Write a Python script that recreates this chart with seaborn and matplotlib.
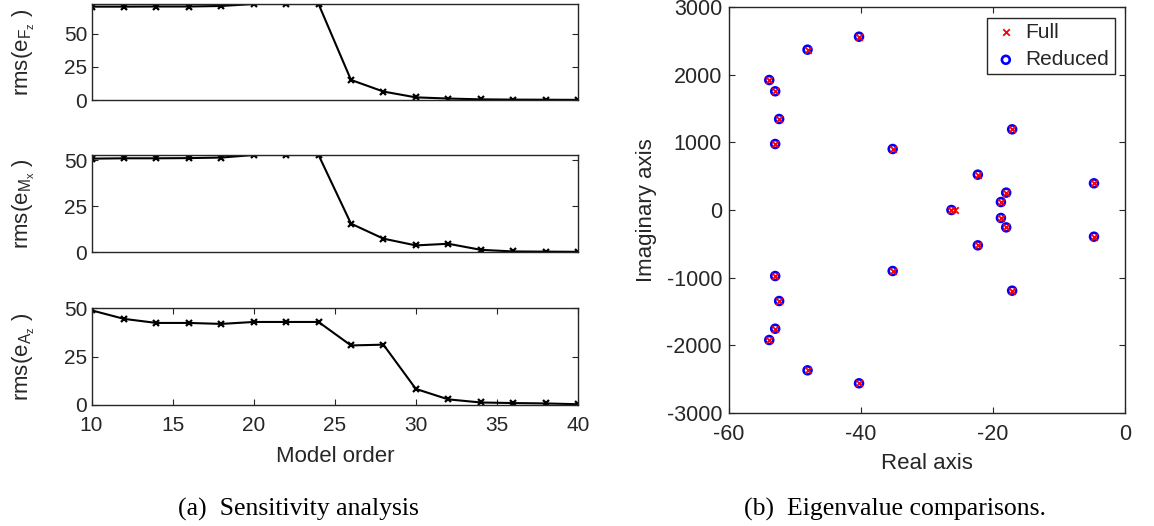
import numpy as np
import pandas as pd
import matplotlib
matplotlib.use("Agg")
import matplotlib.pyplot as plt
import seaborn as sns

# ---- sensitivity analysis data ----
model_order = [10, 12, 14, 16, 18, 20, 22, 24, 26, 28, 30, 32, 34, 36, 38, 40]
rms_fz = [70.7, 70.7, 70.8, 70.8, 71.2, 72.7, 72.7, 72.7, 15.2, 6.4, 2.0, 1.1, 0.5, 0.3, 0.2, 0.1]
rms_mx = [51.0, 51.2, 51.2, 51.3, 51.6, 53.0, 53.0, 53.0, 15.5, 7.3, 3.6, 4.5, 1.2, 0.3, 0.2, 0.1]
rms_az = [48.8, 44.4, 42.3, 42.3, 41.8, 42.8, 42.8, 42.8, 30.7, 31.1, 8.3, 2.9, 1.3, 1.0, 0.8, 0.4]
ylims = [72.7, 53.0, 50.0]
ylabels = [r"rms(e$_{\mathrm{F}_{\mathrm{z}}}$ )",
           r"rms(e$_{\mathrm{M}_{\mathrm{x}}}$ )",
           r"rms(e$_{\mathrm{A}_{\mathrm{z}}}$ )"]

# ---- eigenvalues (full and reduced models) ----
full_real = [-53.9, -53.0, -52.4, -53.0, -48.1, -40.3, -35.2, -22.3, -17.1, -18.0, -18.8, -4.7,
             -53.9, -53.0, -52.4, -53.0, -48.1, -40.3, -35.2, -22.3, -17.1, -18.0, -18.8, -4.7,
             -26.3, -25.8]
full_imag = [1924, 1757, 1347, 977, 2373, 2565, 903, 523, 1194, 257, 118, 395,
             -1924, -1757, -1347, -977, -2373, -2565, -903, -523, -1194, -257, -118, -395,
             0, 0]
red_real = [-53.9, -53.0, -52.4, -53.0, -48.1, -40.3, -35.2, -22.3, -17.1, -18.0, -18.8, -4.7,
            -53.9, -53.0, -52.4, -53.0, -48.1, -40.3, -35.2, -22.3, -17.1, -18.0, -18.8, -4.7,
            -26.3]
red_imag = [1924, 1757, 1347, 977, 2373, 2565, 903, 523, 1194, 257, 118, 395,
            -1924, -1757, -1347, -977, -2373, -2565, -903, -523, -1194, -257, -118, -395,
            0]

sns.set_style("ticks")
ink = "#262626"
plt.rcParams.update({
    "font.family": ["Liberation Sans", "DejaVu Sans"],
    "mathtext.fontset": "custom",
    "mathtext.rm": "Liberation Sans",
    "mathtext.it": "Liberation Sans",
    "axes.unicode_minus": False,
    "axes.edgecolor": ink,
    "axes.linewidth": 1.0,
    "text.color": ink,
    "axes.labelcolor": ink,
    "xtick.color": ink,
    "ytick.color": ink,
})

W, H = 1154, 526
fig = plt.figure(figsize=(W / 100, H / 100), dpi=100)


def px_axes(x0, y0, x1, y1):
    return fig.add_axes([x0 / W, (H - y1) / H, (x1 - x0) / W, (y1 - y0) / H])


def inward_ticks(ax, **kw):
    ax.tick_params(direction="in", length=4, width=0.8, **kw)


left_tick_fs = 15
right_tick_fs = 15.5
label_fs = 16

panel_rows = [(4, 100), (155, 252), (308, 405)]
series = [rms_fz, rms_mx, rms_az]
for i, ((y0, y1), vals) in enumerate(zip(panel_rows, series)):
    ax = px_axes(91.5, y0, 578, y1)
    df = pd.DataFrame({"order": model_order, "rms": vals})
    sns.lineplot(data=df, x="order", y="rms", ax=ax, color="k", linewidth=1.5,
                 marker="x", markersize=5, markeredgewidth=1.6, markeredgecolor="k")
    ax.set_xlim(10, 40)
    ax.set_ylim(0, ylims[i])
    ax.set_yticks([0, 25, 50])
    inward_ticks(ax, labelsize=left_tick_fs, right=True, left=True)
    ax.tick_params(axis="y", pad=3)
    ax.set_ylabel(ylabels[i], fontsize=label_fs)
    ax.yaxis.set_label_coords(-0.112, 0.5)
    if i < 2:
        ax.set_xticks([])
        ax.set_xlabel("")
    else:
        ax.set_xticks([10, 15, 20, 25, 30, 35, 40])
        inward_ticks(ax, axis="x", top=True, bottom=True)
        ax.tick_params(axis="x", pad=8)
        ax.set_xlabel("Model order", fontsize=label_fs, labelpad=8)
    for s in ax.spines.values():
        s.set_visible(True)

# ---- eigenvalue map ----
ax2 = px_axes(729, 7.3, 1125, 412.7)
sns.scatterplot(x=red_real, y=red_imag, ax=ax2, marker="o", s=32,
                color="blue", facecolors="none", edgecolors="blue",
                linewidths=1.9, label="Reduced", zorder=3)
sns.scatterplot(x=full_real, y=full_imag, ax=ax2, marker="x", s=22,
                color="red", linewidths=1.3, label="Full", zorder=4)
ax2.set_xlim(-60, 0)
ax2.set_ylim(-3000, 3000)
ax2.set_xticks([-60, -40, -20, 0])
ax2.set_yticks(np.arange(-3000, 3001, 1000))
inward_ticks(ax2, labelsize=right_tick_fs, top=True, right=True, left=True, bottom=True)
ax2.tick_params(axis="x", pad=8)
ax2.tick_params(axis="y", pad=5)
ax2.set_xlabel("Real axis", fontsize=label_fs, labelpad=6)
ax2.set_ylabel("Imaginary axis", fontsize=label_fs)
ax2.yaxis.set_label_coords(-0.182, 0.5)
for s in ax2.spines.values():
    s.set_visible(True)
handles, labels = ax2.get_legend_handles_labels()
order = [labels.index("Full"), labels.index("Reduced")]
leg = ax2.legend([handles[j] for j in order], [labels[j] for j in order],
                 loc="upper right", fontsize=15, frameon=True, fancybox=False,
                 framealpha=1, edgecolor=ink, borderpad=0.25, handletextpad=0.3,
                 handlelength=1.3, labelspacing=0.4, borderaxespad=0.5)
leg.get_frame().set_linewidth(1.0)

# ---- sub-figure captions ----
cap_kw = dict(family=["Liberation Serif", "DejaVu Serif"], fontsize=18.5,
              ha="center", va="center", color="k")
fig.text(298 / W, 1 - 509 / H, "(a)  Sensitivity analysis", **cap_kw)
fig.text(895 / W, 1 - 509 / H, "(b)  Eigenvalue comparisons.", **cap_kw)

fig.savefig("out.png", dpi=100, facecolor="white")
